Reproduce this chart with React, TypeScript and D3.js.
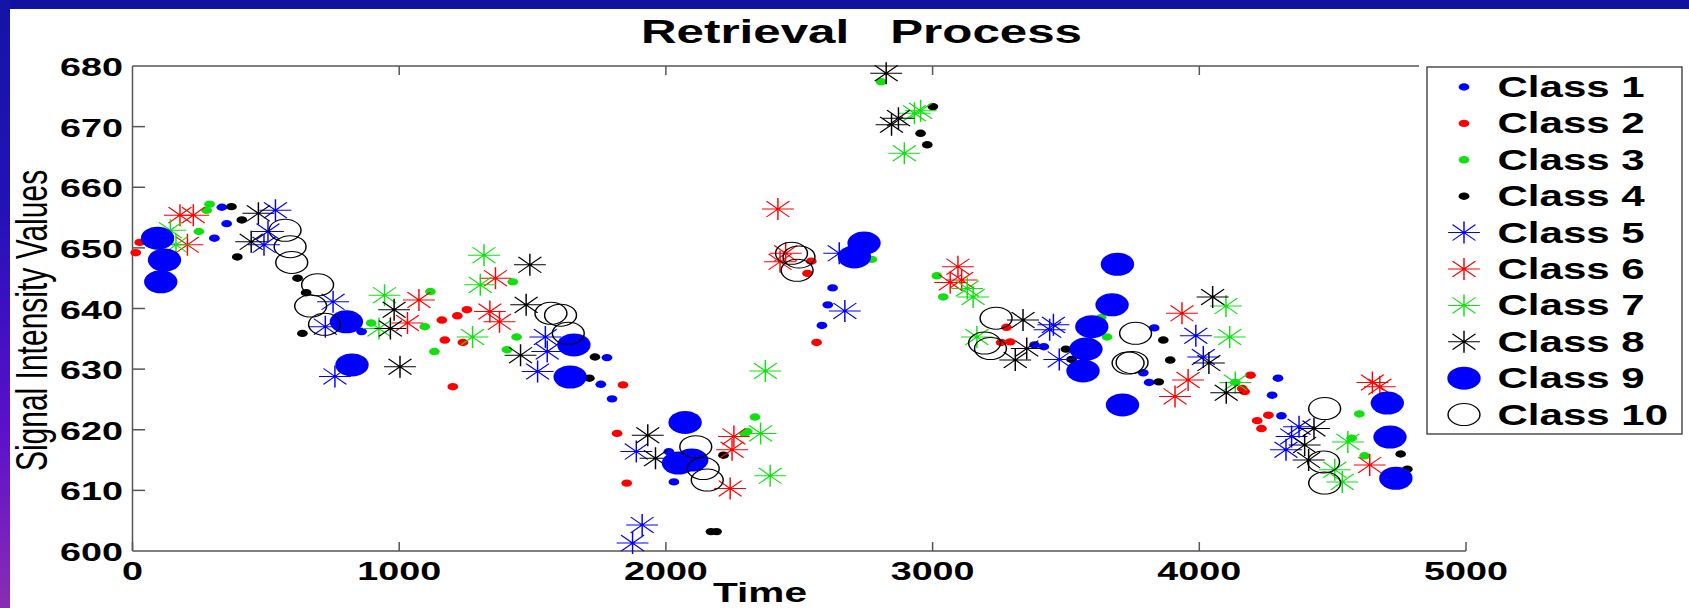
import React from 'react';
import * as d3 from 'd3';

// Figure size and the horizontal stretch the whole figure is drawn with
const W = 1689;
const H = 608;
const SX = 1.45;
const FONT = '"Liberation Sans", Arial, Helvetica, sans-serif';

const xTicks = [0, 1000, 2000, 3000, 4000, 5000];
const yTicks = [600, 610, 620, 630, 640, 650, 660, 670, 680];

// [time, signal intensity] for each class
const class1: [number, number][] = [
  [307, 651.6], [353, 654], [335, 656.7], [859, 636.2], [1756, 627.5], [1779, 631.9],
  [1798, 625.1], [2011, 616.4], [2030, 611.4], [2625, 643.4], [2607, 640.6], [2585, 637.2],
  [3382, 634], [3417, 633.7], [3831, 636.8], [3790, 629.4], [3812, 627.8], [4295, 628.5],
  [4273, 625.7], [4308, 622.3],
];
const class2: [number, number][] = [
  [12, 649.2], [27, 650.9], [1160, 638.1], [1218, 638.8], [1254, 639.8], [1171, 634.8],
  [1239, 634.4], [1201, 627.1], [1839, 627.4], [1817, 619.4], [1853, 611.2], [2545, 647.8],
  [2531, 645.8], [2565, 634.4], [3277, 636.9], [3257, 634.4], [3291, 634.5], [4192, 629],
  [4161, 626.8], [4170, 626.3], [4259, 622.4], [4217, 621.5], [4233, 620.2],
];
const class3: [number, number][] = [
  [249, 652.7], [289, 657.2], [278, 656.2], [895, 637.6], [1096, 637], [1117, 642.8],
  [1132, 632.9], [1426, 644.4], [1440, 635.3], [1404, 633.2], [2334, 622.1], [2305, 619.7],
  [2295, 619.4], [2772, 648.1], [2807, 677.4], [3016, 645.4], [3040, 641.9], [3632, 638.5],
  [3654, 635.3], [4135, 627.8], [4600, 622.6], [4571, 618.6], [4620, 615.7],
];
const class4: [number, number][] = [
  [371, 656.8], [410, 654.6], [393, 648.5], [619, 645], [651, 642.6], [637, 635.9],
  [1734, 632], [1713, 628.5], [2216, 615.8], [2169, 603.2], [2190, 603.2], [3001, 673.3],
  [2955, 668.9], [2980, 667], [3500, 633.3], [3521, 631.6], [3865, 634.8], [3891, 631.5],
  [3848, 627.9], [4755, 616], [4780, 613.5],
];
const class5: [number, number][] = [
  [536, 656.2], [508, 652.7], [493, 650.5], [752, 641.1], [723, 637], [759, 628.8],
  [1548, 635.3], [1555, 632.9], [1519, 629.6], [1889, 616.4], [1911, 604.3], [1875, 601.3],
  [2650, 649.1], [2671, 639.6], [3453, 637.3], [3439, 636.5], [3475, 631.6], [3987, 635.5],
  [4015, 632], [4374, 620.5], [4346, 618.9], [4325, 616.7],
];
const class6: [number, number][] = [
  [178, 655.4], [228, 655.4], [206, 650.5], [1074, 641.4], [1031, 637.6], [1361, 645],
  [1340, 639.5], [1376, 637.8], [2255, 618.9], [2248, 616.7], [2241, 610.3], [2420, 656.4],
  [2449, 649.1], [2428, 647.7], [3095, 646.9], [3109, 644.7], [3066, 644.3], [3935, 639.2],
  [3958, 628.2], [3909, 625.5], [4649, 627.8], [4677, 627.1], [4639, 614.2],
];
const class7: [number, number][] = [
  [142, 652.9], [163, 650.5], [945, 642.2], [924, 636.7], [1318, 648.8], [1304, 643.9],
  [1275, 635.3], [2355, 619.4], [2391, 612.4], [2373, 629.7], [2932, 672.2], [2955, 672.6],
  [2894, 665.6], [3130, 643.3], [3152, 641.9], [3166, 635.3], [4100, 640.4], [4114, 635.3],
  [4135, 627.8], [4508, 613.4], [4536, 611.4], [4557, 618],
];
const class8: [number, number][] = [
  [472, 655.7], [445, 651], [967, 636.7], [981, 639.8], [1003, 630.4], [1490, 647.2],
  [1476, 640.6], [1455, 632.3], [1932, 619.1], [1961, 615.3], [2826, 678.8], [2872, 671.4],
  [2846, 670.3], [3339, 638.1], [3353, 633.4], [3310, 631.5], [4050, 641.9], [4036, 631],
  [4101, 626.1], [4430, 620.2], [4395, 617.5], [4410, 615],
];
const class9: [number, number][] = [
  [94, 651.6], [120, 648], [106, 644.4], [802, 637.8], [823, 630.7], [1655, 634],
  [1641, 628.7], [2072, 621.2], [2047, 614.5], [2097, 615], [2743, 650.8], [2707, 648.5],
  [3693, 647.3], [3673, 640.6], [3597, 637], [3575, 633.3], [3564, 629.7], [3712, 624.1],
  [4705, 624.4], [4715, 618.8], [4737, 612],
];
const class10: [number, number][] = [
  [572, 652.9], [591, 650.2], [597, 647.6], [694, 643.9], [668, 640.4], [720, 637.4],
  [1569, 639.2], [1605, 638.9], [1634, 635.9], [2112, 617.2], [2140, 613.6], [2155, 611.7],
  [2471, 649.1], [2499, 648.5], [2492, 646.3], [3238, 638.4], [3195, 634.3], [3217, 633.4],
  [3761, 635.9], [3733, 631], [3748, 631.1], [4466, 614.7], [4470, 611.2], [4470, 623.5],
];

type Shape = 'dot' | 'star' | 'big' | 'ring';
const BLUE = '#0000ff';
const RED = '#ff0000';
const GREEN = '#10e010';
const BLACK = '#000000';

const series: { name: string; data: [number, number][]; shape: Shape; color: string }[] = [
  { name: 'Class 1', data: class1, shape: 'dot', color: BLUE },
  { name: 'Class 2', data: class2, shape: 'dot', color: RED },
  { name: 'Class 3', data: class3, shape: 'dot', color: GREEN },
  { name: 'Class 4', data: class4, shape: 'dot', color: BLACK },
  { name: 'Class 5', data: class5, shape: 'star', color: BLUE },
  { name: 'Class 6', data: class6, shape: 'star', color: RED },
  { name: 'Class 7', data: class7, shape: 'star', color: GREEN },
  { name: 'Class 8', data: class8, shape: 'star', color: BLACK },
  { name: 'Class 9', data: class9, shape: 'big', color: BLUE },
  { name: 'Class 10', data: class10, shape: 'ring', color: BLACK },
];

const plot = { left: 132.5, right: 1466, top: 66, bottom: 551 };
const legend = { left: 1427, right: 1682, top: 67, bottom: 434, row0: 87, rowStep: 36.4 };

function starPath(L: number) {
  const d = L * 0.72;
  return `M${-L},0L${L},0M0,${-L}L0,${L}M${-d},${-d}L${d},${d}M${-d},${d}L${d},${-d}`;
}

function Marker({ shape, color, x, y }: { shape: Shape; color: string; x: number; y: number }) {
  return (
    <g transform={`translate(${x},${y}) scale(${SX},1)`}>
      {shape === 'dot' && <circle r={3.7} fill={color} />}
      {shape === 'big' && <circle r={11.5} fill={color} />}
      {shape === 'ring' && <circle r={11} fill="none" stroke={color} strokeWidth={1} />}
      {shape === 'star' && (
        <path d={starPath(11)} fill="none" stroke={color} strokeWidth={1} />
      )}
    </g>
  );
}

function SText({
  x, y, size, anchor = 'start', weight = 'bold', children,
}: { x: number; y: number; size: number; anchor?: string; weight?: string; children: React.ReactNode }) {
  return (
    <text
      transform={`translate(${x},${y}) scale(${SX},1)`}
      fontFamily={FONT}
      fontSize={size}
      fontWeight={weight}
      textAnchor={anchor}
      fill="#000"
      style={{ whiteSpace: 'pre' }}
    >
      {children}
    </text>
  );
}

export default function App() {
  const x = d3.scaleLinear().domain([0, 5000]).range([plot.left, plot.right]);
  const y = d3.scaleLinear().domain([600, 680]).range([plot.bottom, plot.top]);
  const axisColor = '#555';

  return (
    <svg
      width={W}
      height={H}
      viewBox={`0 0 ${W} ${H}`}
      style={{ position: 'absolute', left: 0, top: 0, display: 'block', background: '#fff' }}
    >
      <defs>
        <linearGradient id="leftBand" x1="0" y1="0" x2="0" y2="1">
          <stop offset="0" stopColor="#1414a6" />
          <stop offset="0.35" stopColor="#2412b8" />
          <stop offset="0.7" stopColor="#5a10cc" />
          <stop offset="1" stopColor="#8a2cb4" />
        </linearGradient>
      </defs>
      <rect x={0} y={0} width={W} height={H} fill="#fff" />
      <rect x={0} y={0} width={W} height={9} fill="#1212a2" />
      <rect x={0} y={0} width={10} height={H} fill="url(#leftBand)" />

      {/* title */}
      <SText x={641} y={43} size={34}>{'Retrieval   Process'}</SText>

      {/* axes frame: left, bottom and top */}
      <line x1={plot.left} y1={plot.top} x2={plot.left} y2={plot.bottom} stroke={axisColor} strokeWidth={1.5} />
      <line x1={plot.left} y1={plot.bottom} x2={plot.right} y2={plot.bottom} stroke={axisColor} strokeWidth={1.5} />
      <line x1={plot.left} y1={plot.top} x2={plot.right} y2={plot.top} stroke={axisColor} strokeWidth={1.5} />

      {/* x ticks */}
      {xTicks.map((t) => (
        <g key={`xt${t}`}>
          <line x1={x(t)} x2={x(t)} y1={plot.bottom} y2={plot.bottom - 9} stroke={axisColor} strokeWidth={1.5} />
          {t > 0 && t < 5000 && (
            <line x1={x(t)} x2={x(t)} y1={plot.top} y2={plot.top + 9} stroke={axisColor} strokeWidth={1.5} />
          )}
          <SText x={x(t)} y={580} size={26} anchor="middle">{String(t)}</SText>
        </g>
      ))}

      {/* y ticks */}
      {yTicks.map((v) => (
        <g key={`yt${v}`}>
          {v > 600 && v < 680 && (
            <line x1={plot.left} x2={plot.left + 12.5} y1={y(v)} y2={y(v)} stroke={axisColor} strokeWidth={1.5} />
          )}
          <SText x={123} y={y(v) + 10} size={26} anchor="end">{String(v)}</SText>
        </g>
      ))}

      {/* axis labels */}
      <SText x={760} y={602} size={28} anchor="middle">Time</SText>
      <text
        transform={`translate(47,${(161 + 480) / 2}) scale(${SX},1) rotate(-90)`}
        fontFamily={FONT}
        fontSize={30}
        textAnchor="middle"
        fill="#000"
      >
        Signal Intensity Values
      </text>

      {/* data */}
      {series.map((s) => (
        <g key={s.name}>
          {s.data.map(([t, v], i) => (
            <Marker key={i} shape={s.shape} color={s.color} x={x(t)} y={y(v)} />
          ))}
        </g>
      ))}

      {/* legend */}
      <rect x={legend.left - 8} y={plot.top - 2} width={W - legend.left + 8} height={legend.bottom - plot.top + 6} fill="#fff" />
      <rect
        x={legend.left}
        y={legend.top}
        width={legend.right - legend.left}
        height={legend.bottom - legend.top}
        fill="#fff"
        stroke="#333"
        strokeWidth={1.3}
      />
      {series.map((s, i) => {
        const cy = legend.row0 + i * legend.rowStep;
        return (
          <g key={`lg${s.name}`}>
            <Marker shape={s.shape} color={s.color} x={1464} y={cy} />
            <SText x={1497.5} y={cy + 10} size={29}>{s.name}</SText>
          </g>
        );
      })}
    </svg>
  );
}
